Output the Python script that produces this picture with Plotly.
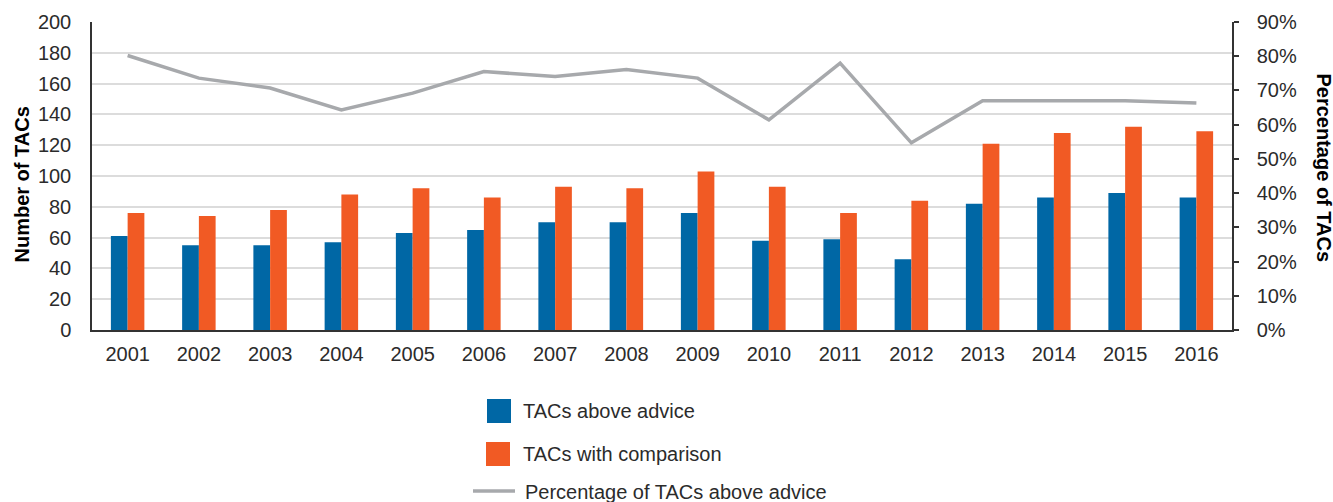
import plotly.graph_objects as go

years = [str(y) for y in range(2001, 2017)]
tacs_above = [61, 55, 55, 57, 63, 65, 70, 70, 76, 58, 59, 46, 82, 86, 89, 86]
tacs_comparison = [76, 74, 78, 88, 92, 86, 93, 92, 103, 93, 76, 84, 121, 128, 132, 129]
pct_above = [0.802, 0.736, 0.707, 0.643, 0.692, 0.755, 0.741, 0.761, 0.736, 0.614, 0.780, 0.547, 0.670, 0.670, 0.670, 0.663]

BLUE = "#0067A5"
ORANGE = "#F15A24"
GREY = "#A7A9AC"
FONT = "Liberation Sans"
TXT = "#2b2b2b"
FS = 20

fig = go.Figure()
fig.add_trace(go.Bar(x=years, y=tacs_above, name="TACs above advice",
                     marker=dict(color=BLUE, line=dict(width=0)), showlegend=False))
fig.add_trace(go.Bar(x=years, y=tacs_comparison, name="TACs with comparison",
                     marker=dict(color=ORANGE, line=dict(width=0)), showlegend=False))
fig.add_trace(go.Scatter(x=years, y=pct_above, name="Percentage of TACs above advice",
                         mode="lines", line=dict(color=GREY, width=3.5), yaxis="y2",
                         showlegend=False))

L, R, T, B = 92, 101, 22, 172
W, H = 1333, 502
pw, ph = W - L - R, H - T - B


def px(x):
    return (x - L) / pw


def py(y):
    return (H - B - y) / ph


shapes = [
    dict(type="rect", xref="paper", yref="paper", x0=px(487), x1=px(511), y0=py(423), y1=py(399),
         fillcolor=BLUE, line=dict(width=0)),
    dict(type="rect", xref="paper", yref="paper", x0=px(486), x1=px(510), y0=py(466), y1=py(442),
         fillcolor=ORANGE, line=dict(width=0)),
    dict(type="line", xref="paper", yref="paper", x0=px(473), x1=px(515), y0=py(491), y1=py(491),
         line=dict(color=GREY, width=3.5)),
]

annotations = [
    dict(text="TACs above advice", xref="paper", yref="paper", x=px(521), y=py(411),
         xanchor="left", yanchor="middle", showarrow=False, font=dict(family=FONT, size=FS, color=TXT)),
    dict(text="TACs with comparison", xref="paper", yref="paper", x=px(521), y=py(454),
         xanchor="left", yanchor="middle", showarrow=False, font=dict(family=FONT, size=FS, color=TXT)),
    dict(text="Percentage of TACs above advice", xref="paper", yref="paper", x=px(523), y=py(492),
         xanchor="left", yanchor="middle", showarrow=False, font=dict(family=FONT, size=FS, color=TXT)),
    dict(text="<b>Number of TACs</b>", xref="paper", yref="paper", x=px(21.5), y=py(185),
         xanchor="center", yanchor="middle", textangle=-90, showarrow=False,
         font=dict(family=FONT, size=FS, color="#000")),
    dict(text="<b>Percentage of TACs</b>", xref="paper", yref="paper", x=px(1324), y=py(167.5),
         xanchor="center", yanchor="middle", textangle=90, showarrow=False,
         font=dict(family=FONT, size=FS, color="#000")),
]

fig.update_layout(
    width=W, height=H,
    margin=dict(l=L, r=R, t=T, b=B, pad=0),
    paper_bgcolor="white", plot_bgcolor="white",
    barmode="group", bargap=0.53, bargroupgap=0,
    font=dict(family=FONT, size=FS, color=TXT),
    showlegend=False,
    xaxis=dict(type="category", showgrid=False, showline=True, linecolor="#333", linewidth=1.5,
               ticks="", tickfont=dict(family=FONT, size=FS, color=TXT), ticklabelstandoff=5),
    yaxis=dict(range=[0, 200], dtick=20, showgrid=True, gridcolor="#DCDCDC", gridwidth=1.5,
               showline=True, linecolor="#333", linewidth=1.5, ticks="", zeroline=False,
               tickfont=dict(family=FONT, size=FS, color=TXT), ticklabelstandoff=15),
    yaxis2=dict(range=[0, 0.9], dtick=0.1, tickformat=".0%", overlaying="y", side="right",
                showgrid=False, showline=True, linecolor="#333", linewidth=1.5, zeroline=False,
                ticks="outside", ticklen=5, tickcolor="#333", tickwidth=1.5,
                tickfont=dict(family=FONT, size=FS, color=TXT), ticklabelstandoff=14),
    shapes=shapes,
    annotations=annotations,
)

fig.write_html("out.html")
